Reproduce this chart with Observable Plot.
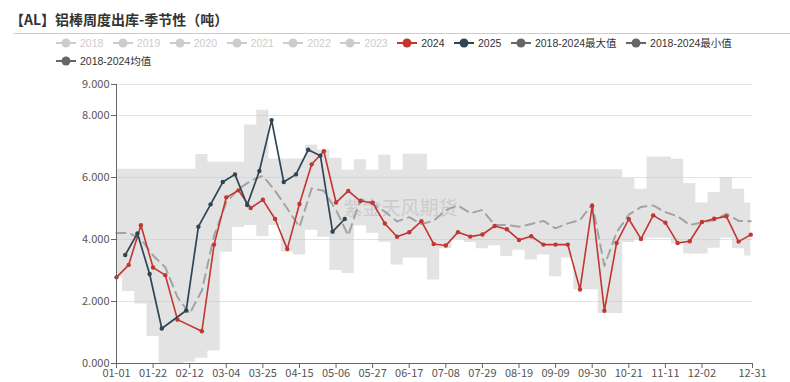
<!DOCTYPE html>
<html><head><meta charset="utf-8">
<script src="https://cdn.jsdelivr.net/npm/d3@7"></script>
<script src="https://cdn.jsdelivr.net/npm/@observablehq/plot@0.6"></script>
<style>
body{margin:0;width:790px;height:382px;position:relative;background:#fff;font-family:"Noto Sans CJK SC","Noto Sans",sans-serif;overflow:hidden}
#title{position:absolute;left:10px;top:9px;font-size:14px;font-weight:700;color:#333;line-height:20px;white-space:nowrap}
#sep{position:absolute;left:14px;right:0;top:33px;border-top:1px solid #ccc}
.legend{position:absolute;left:56px;display:flex;gap:9.5px;font-family:"Liberation Sans","Noto Sans CJK SC",sans-serif;font-size:10.5px;line-height:14px;white-space:nowrap}
.item{display:flex;align-items:center;gap:4px}
.item svg{display:block}
#chart{position:absolute;left:0;top:70px}
</style></head><body>
<div id="title">【AL】铝棒周度出库-季节性（吨）</div>
<div id="sep"></div>
<div class="legend" id="leg1" style="top:36px"></div>
<div class="legend" id="leg2" style="top:54px"></div>
<div id="chart"></div>
<script>
// ---- data ----
const weekStart2024 = "01-01";   // weekly points, 7 days apart
const weekStart2025 = "01-06";
const values2024 = [2780,3180,4460,3095,2850,1415,null,1040,3835,5360,5585,5015,5280,4661,3690,5144,6425,6845,5192,5568,
  5240,5187,4517,4087,4232,4592,3856,3808,4237,4093,4162,4436,4329,3986,4104,3836,3836,3836,2389,5089,
  1704,3889,4661,4018,4779,4543,3889,3943,4564,4671,4746,3932,4157];
const values2025 = [3501,4199,2889,1128,null,1708,4414,5134,5853,6100,5112,6208,7851,5853,6100,6895,6702,4253,4661];
const meanValues = [4212,4212,4018,3483,3108,2143,1607,2357,4125,5198,5625,5893,6054,5572,5000,4400,5650,5570,4950,4130,
  5300,5150,4900,4580,4720,4500,4600,4950,5100,4850,4950,4470,4470,4414,4500,4600,4360,4520,4620,5150,
  3150,4230,4800,5050,5100,4880,4750,4470,4550,4620,4830,4600,4590];
const maxValues = [6270,6270,6270,6270,6270,6270,6270,6745,6490,6490,6490,7690,8170,6600,6600,6600,7045,6884,6620,6236,
  6570,6236,6720,6236,6750,6750,6250,6250,6250,6250,6250,6250,6250,6250,6250,6250,6250,6250,6250,6250,
  6250,6250,5968,5625,6664,6664,6590,5807,5175,5518,6000,5625,5175];
const minValues = [2780,2320,1920,870,0,0,40,170,400,3590,4390,4450,4100,4450,3600,3500,4300,4072,3000,2900,
  4446,4200,3910,3180,3400,3400,2690,3700,4000,3900,3700,3800,3450,3650,3340,3500,2800,3400,2380,2380,
  1610,1610,3900,4000,4040,4040,3855,3533,3533,3716,4040,3700,3469];
const xTickLabels = ["01-01","01-22","02-12","03-04","03-25","04-15","05-06","05-27","06-17","07-08","07-29","08-19","09-09","09-30","10-21","11-11","12-02","12-31"];
const yTicks = [0,2000,4000,6000,8000,9000];
const yTickLabels = ["0.000","2.000","4.000","6.000","8.000","9.000"];
const legendRow1 = [["2018","#ccc",false],["2019","#ccc",false],["2020","#ccc",false],["2021","#ccc",false],["2022","#ccc",false],["2023","#ccc",false],
  ["2024","#c23531",true],["2025","#2f4554",true],["2018-2024最大值","#666",true],["2018-2024最小值","#666",true]];
const legendRow2 = [["2018-2024均值","#666",true]];
const watermark = "紫金天风期货";

// ---- build ----
const md = s => new Date("2024-" + s + "T00:00:00Z");
const weekly = (start, vals) => vals.map((v, i) => ({date: d3.utcDay.offset(md(start), 7 * i), v}));
const s2024 = weekly(weekStart2024, values2024).filter(d => d.v != null);
const s2025 = weekly(weekStart2025, values2025).filter(d => d.v != null);
const sMean = weekly(weekStart2024, meanValues);
const band = maxValues.map((mx, i) => ({date: d3.utcDay.offset(md(weekStart2024), 7 * i), max: mx, min: minValues[i]}));
const xTicks = xTickLabels.map(md);

function legend(el, items) {
  for (const [name, color, on] of items) {
    const it = document.createElement("div");
    it.className = "item";
    it.innerHTML = `<svg width="20" height="10"><line x1="0" y1="5" x2="20" y2="5" stroke="${color}" stroke-width="2"/><circle cx="10" cy="5" r="4.5" fill="${color}"/></svg><span style="color:${on ? "#333" : "#ccc"}">${name}</span>`;
    el.appendChild(it);
  }
}
legend(document.getElementById("leg1"), legendRow1);
legend(document.getElementById("leg2"), legendRow2);

const chart = Plot.plot({
  width: 790, height: 312,
  marginLeft: 116, marginRight: 38, marginTop: 14, marginBottom: 19,
  style: {fontFamily: '"Noto Sans CJK SC","Noto Sans",sans-serif', fontSize: "11px", color: "#555", background: "transparent"},
  x: {type: "utc", domain: [md("01-01"), md("12-31")]},
  y: {domain: [0, 9000]},
  marks: [
    Plot.ruleY(yTicks.filter(d => d > 0), {stroke: "#e3e3e3"}),
    Plot.areaY(band, {x: "date", y1: "min", y2: "max", curve: "step", fill: "#c8c8c8", fillOpacity: 0.5}),
    Plot.text([watermark], {frameAnchor: "middle", dx: -34, dy: -15, fontSize: 19, fill: "#bbb", fillOpacity: 0.6}),
    Plot.line(sMean, {x: "date", y: "v", stroke: "#a3a3a3", strokeWidth: 2, strokeDasharray: "9,6"}),
    Plot.line(s2024, {x: "date", y: "v", stroke: "#c23531", strokeWidth: 1.6}),
    Plot.dot(s2024, {x: "date", y: "v", r: 2.2, fill: "#c23531"}),
    Plot.line(s2025, {x: "date", y: "v", stroke: "#2f4554", strokeWidth: 1.7}),
    Plot.dot(s2025, {x: "date", y: "v", r: 2.2, fill: "#2f4554"}),
    Plot.ruleX([md("01-01")], {stroke: "#666"}),
    Plot.ruleY([0], {stroke: "#666"}),
    Plot.axisX({ticks: xTicks, tickFormat: "%m-%d", tickSize: 5, tickPadding: 1, stroke: "#666", label: null}),
    Plot.axisY({ticks: yTicks, tickFormat: d => yTickLabels[yTicks.indexOf(d)], tickSize: 5, tickPadding: 2, stroke: "#666", label: null})
  ]
});
document.getElementById("chart").appendChild(chart);
</script>
</body></html>
